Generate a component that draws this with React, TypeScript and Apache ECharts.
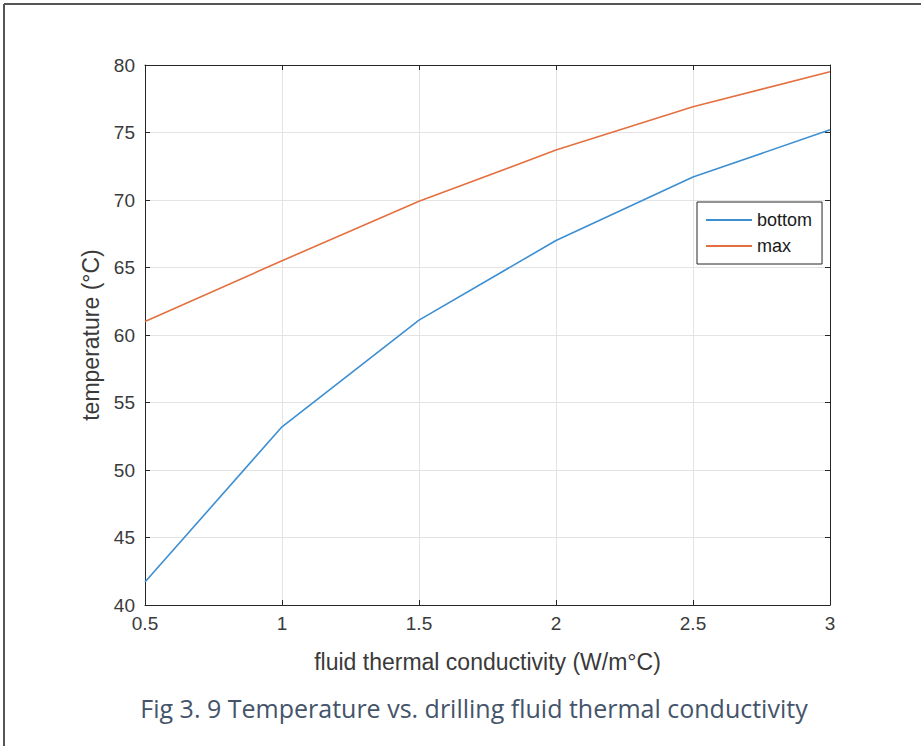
import React, { useEffect, useRef } from "react";
import * as echarts from "echarts";

const conductivity = [0.5, 1, 1.5, 2, 2.5, 3];
const bottomTemp = [41.7, 53.2, 61.1, 67.0, 71.7, 75.2];
const maxTemp = [61.0, 65.5, 69.9, 73.7, 76.9, 79.5];
const seriesNames = ["bottom", "max"];
const xAxisTitle = "fluid thermal conductivity (W/m°C)";
const yAxisTitle = "temperature (°C)";
const caption = "Fig 3. 9 Temperature vs. drilling fluid thermal conductivity";

const AXIS = "#262626";
const LABEL = "#3a3a3a";
const FONT = "Liberation Sans, Arial, sans-serif";

export default function App() {
  const ref = useRef<HTMLDivElement>(null);
  useEffect(() => {
    if (!ref.current) return;
    const chart = echarts.init(ref.current, null, { renderer: "svg" });
    const sideAxis = {
      axisLine: { show: true, lineStyle: { color: AXIS, width: 1 } },
      axisTick: { show: true, inside: true, length: 5, lineStyle: { color: AXIS } },
      axisLabel: { show: false },
      splitLine: { show: false },
    };
    chart.setOption({
      animation: false,
      backgroundColor: "#ffffff",
      grid: { left: 145, top: 65, right: 91, bottom: 141, containLabel: false },
      legend: {
        data: seriesNames,
        orient: "vertical",
        icon: "rect",
        left: 697,
        top: 202,
        padding: [9, 10, 9, 9],
        itemGap: 8,
        itemWidth: 46,
        itemHeight: 2,
        itemTextGap: 6,
        borderColor: AXIS,
        borderWidth: 1,
        backgroundColor: "#fff",
        textStyle: { fontFamily: FONT, fontSize: 18, color: "#1a1a1a", lineHeight: 18 },
      },
      xAxis: [
        {
          type: "value",
          min: 0.5,
          max: 3,
          interval: 0.5,
          name: xAxisTitle,
          nameLocation: "middle",
          nameGap: 45,
          nameTextStyle: { fontFamily: FONT, fontSize: 23, color: LABEL },
          axisLine: { show: true, onZero: false, lineStyle: { color: AXIS, width: 1 } },
          axisTick: { show: true, inside: true, length: 5, lineStyle: { color: AXIS } },
          axisLabel: { fontFamily: FONT, fontSize: 19, color: LABEL, margin: 9 },
          splitLine: { show: true, lineStyle: { color: "#e3e3e3", width: 1 } },
        },
        { type: "value", position: "top", min: 0.5, max: 3, interval: 0.5, ...sideAxis },
      ],
      yAxis: [
        {
          type: "value",
          min: 40,
          max: 80,
          interval: 5,
          name: yAxisTitle,
          nameLocation: "middle",
          nameGap: 40,
          nameRotate: 90,
          nameTextStyle: { fontFamily: FONT, fontSize: 23, color: LABEL },
          axisLine: { show: true, onZero: false, lineStyle: { color: AXIS, width: 1 } },
          axisTick: { show: true, inside: true, length: 5, lineStyle: { color: AXIS } },
          axisLabel: { fontFamily: FONT, fontSize: 19, color: LABEL, margin: 10 },
          splitLine: { show: true, lineStyle: { color: "#e3e3e3", width: 1 } },
        },
        { type: "value", position: "right", min: 40, max: 80, interval: 5, ...sideAxis },
      ],
      series: [
        {
          name: seriesNames[0],
          type: "line",
          symbol: "none",
          data: conductivity.map((x, i) => [x, bottomTemp[i]]),
          lineStyle: { color: "#3d8fd1", width: 1.6 },
          itemStyle: { color: "#3d8fd1" },
        },
        {
          name: seriesNames[1],
          type: "line",
          symbol: "none",
          data: conductivity.map((x, i) => [x, maxTemp[i]]),
          lineStyle: { color: "#e4703f", width: 1.6 },
          itemStyle: { color: "#e4703f" },
        },
      ],
      graphic: [
        { type: "line", shape: { x1: 4, y1: 4, x2: 921, y2: 4 }, style: { stroke: "#555", lineWidth: 2 } },
        { type: "line", shape: { x1: 4, y1: 4, x2: 4, y2: 746 }, style: { stroke: "#555", lineWidth: 2 } },
        {
          type: "text",
          x: 474,
          y: 708,
          style: {
            text: caption,
            fontFamily: "Open Sans, Noto Sans, sans-serif",
            fontSize: 25,
            fill: "#44546a",
            textAlign: "center",
            textVerticalAlign: "middle",
          },
        },
      ],
    });
    return () => chart.dispose();
  }, []);
  return <div ref={ref} style={{ width: 921, height: 746, position: "fixed", left: 0, top: 0 }} />;
}
